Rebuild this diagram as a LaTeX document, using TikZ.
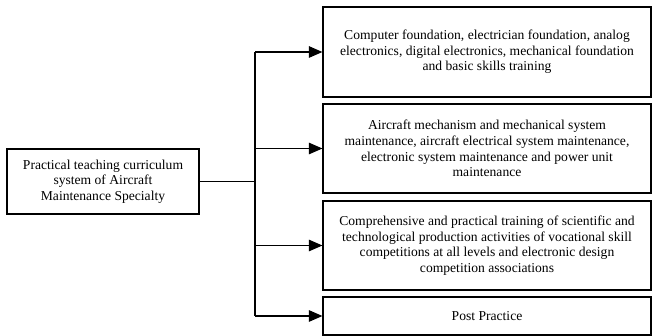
\documentclass[tikz,border=0pt]{standalone}
\usepackage{fontspec}
\setmainfont{Liberation Serif}
\usetikzlibrary{arrows.meta}
\begin{document}
\begin{tikzpicture}[x=1pt,y=-1pt,
  box/.style={draw, line width=1.2pt, inner sep=0pt, align=center,
    font=\fontsize{13.6}{15.6}\selectfont},
  conn/.style={line width=1.1pt},
  arr/.style={conn,-{Triangle[length=13.5pt,width=11.5pt]}}]
\useasboundingbox (0,0) rectangle (652,336);
\node[box, minimum width=192pt, minimum height=65pt] (root) at (103,181.5)
  {Practical teaching curriculum\\system of Aircraft\\Maintenance Specialty};
\node[box, minimum width=328pt, minimum height=90pt] (b1) at (487,52)
  {Computer foundation, electrician foundation, analog\\electronics, digital electronics, mechanical foundation\\and basic skills training};
\node[box, minimum width=328pt, minimum height=89pt] (b2) at (487,148.5)
  {Aircraft mechanism and mechanical system\\maintenance, aircraft electrical system maintenance,\\electronic system maintenance and power unit\\maintenance};
\node[box, minimum width=328pt, minimum height=89pt] (b3) at (487,245.5)
  {Comprehensive and practical training of scientific and\\technological production activities of vocational skill\\competitions at all levels and electronic design\\competition associations};
\node[box, minimum width=328pt, minimum height=38pt] (b4) at (487,316)
  {Post Practice};
\coordinate (j) at (255,181.5);
\draw[conn] (root.east) -- (j);
\draw[conn] (j |- b1.west) -- (j |- b4.west);
\foreach \b in {b1,b2,b3,b4} \draw[arr] (j |- \b.west) -- (\b.west);
\end{tikzpicture}
\end{document}
